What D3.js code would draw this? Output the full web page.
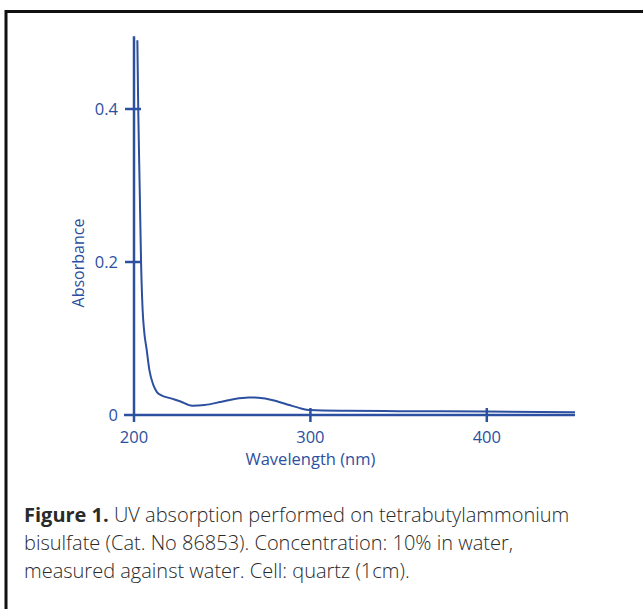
<!DOCTYPE html>
<html>
<head>
<meta charset="utf-8">
<script src="https://cdn.jsdelivr.net/npm/d3@7"></script>
<style>
  body { margin: 0; background: #fff; }
  svg { display: block; }
</style>
</head>
<body>
<svg id="chart" width="643" height="609"></svg>
<script>
// spectrum: wavelength (nm) and absorbance
var wavelength = [201.9, 202.4, 203.2, 204.0, 204.9, 205.7, 207.2, 208.7, 211.0, 213.0, 215.3, 220.4, 226, 233, 240, 249, 257, 265, 273, 281, 288, 294, 300, 320, 350, 400, 450];
var absorbance = [0.49, 0.40, 0.30, 0.20, 0.137, 0.111, 0.085, 0.059, 0.039, 0.030, 0.026, 0.022, 0.018, 0.012, 0.013, 0.017, 0.021, 0.023, 0.022, 0.018, 0.013, 0.009, 0.0065, 0.0055, 0.005, 0.0045, 0.0035];
var xTicks = [200, 300, 400];
var yTicks = [0, 0.2, 0.4];
var yTickLabels = ["0", "0.2", "0.4"];
var captionLines = [
  ["Figure 1.", " UV absorption performed on tetrabutylammonium"],
  ["", "bisulfate (Cat. No 86853). Concentration: 10% in water,"],
  ["", "measured against water. Cell: quartz (1cm)."]
];

var blue = "#2c509f";
var font = "'Open Sans', 'Noto Sans', sans-serif";

var svg = d3.select("svg#chart");

// outer frame (top + left only visible)
svg.append("path")
  .attr("d", "M6,609V11.5H643")
  .attr("fill", "none")
  .attr("stroke", "#111")
  .attr("stroke-width", 3);

var x = d3.scaleLinear().domain([200, 450]).range([134, 575]);
var y = d3.scaleLinear().domain([0, 0.4]).range([415, 109]);

var g = svg.append("g");

// axis lines
g.append("line")
  .attr("x1", x(200)).attr("x2", x(200))
  .attr("y1", y(0.495)).attr("y2", y(0) + 7)
  .attr("stroke", blue).attr("stroke-width", 2.5);
g.append("line")
  .attr("x1", x(200) - 10).attr("x2", x(450))
  .attr("y1", y(0)).attr("y2", y(0))
  .attr("stroke", blue).attr("stroke-width", 2.5);

// y ticks (crossing the axis)
g.selectAll("line.ytick")
  .data(yTicks.slice(1))
  .enter().append("line")
  .attr("class", "ytick")
  .attr("x1", x(200) - 9).attr("x2", x(200) + 7)
  .attr("y1", d => y(d)).attr("y2", d => y(d))
  .attr("stroke", blue).attr("stroke-width", 2.5);

g.selectAll("text.ylabel")
  .data(yTicks)
  .enter().append("text")
  .attr("class", "ylabel")
  .attr("x", x(200) - 16)
  .attr("y", d => y(d))
  .attr("dy", "0.35em")
  .attr("text-anchor", "end")
  .attr("fill", blue)
  .attr("font-family", font)
  .attr("font-size", "16.5px")
  .text((d, i) => yTickLabels[i]);

// x ticks
g.selectAll("line.xtick")
  .data(xTicks.slice(1))
  .enter().append("line")
  .attr("class", "xtick")
  .attr("x1", d => x(d)).attr("x2", d => x(d))
  .attr("y1", y(0) - 7).attr("y2", y(0) + 7)
  .attr("stroke", blue).attr("stroke-width", 2.5);

g.selectAll("text.xlabel")
  .data(xTicks)
  .enter().append("text")
  .attr("class", "xlabel")
  .attr("x", d => x(d))
  .attr("y", 443)
  .attr("text-anchor", "middle")
  .attr("fill", blue)
  .attr("font-family", font)
  .attr("font-size", "16.5px")
  .text(d => d);

// axis titles
g.append("text")
  .attr("x", x(300))
  .attr("y", 465)
  .attr("text-anchor", "middle")
  .attr("fill", blue)
  .attr("font-family", font)
  .attr("font-size", "16.5px")
  .text("Wavelength (nm)");

g.append("text")
  .attr("transform", "translate(84,263) rotate(-90)")
  .attr("text-anchor", "middle")
  .attr("fill", blue)
  .attr("font-family", font)
  .attr("font-size", "16px")
  .text("Absorbance");

// spectrum
var line = d3.line()
  .x((d, i) => x(wavelength[i]))
  .y(d => y(d))
  .curve(d3.curveMonotoneX);

g.append("path")
  .datum(absorbance)
  .attr("d", line)
  .attr("fill", "none")
  .attr("stroke", blue)
  .attr("stroke-width", 2);

// caption
var cap = svg.append("g")
  .attr("font-family", font)
  .attr("font-size", "20px")
  .attr("fill", "#2a2a2a");

captionLines.forEach(function (l, i) {
  var t = cap.append("text")
    .attr("x", 24)
    .attr("y", 522 + i * 28);
  if (l[0]) t.append("tspan").attr("font-weight", "bold").text(l[0]);
  t.append("tspan").attr("font-weight", 300).text(l[1]);
});
</script>
</body>
</html>
